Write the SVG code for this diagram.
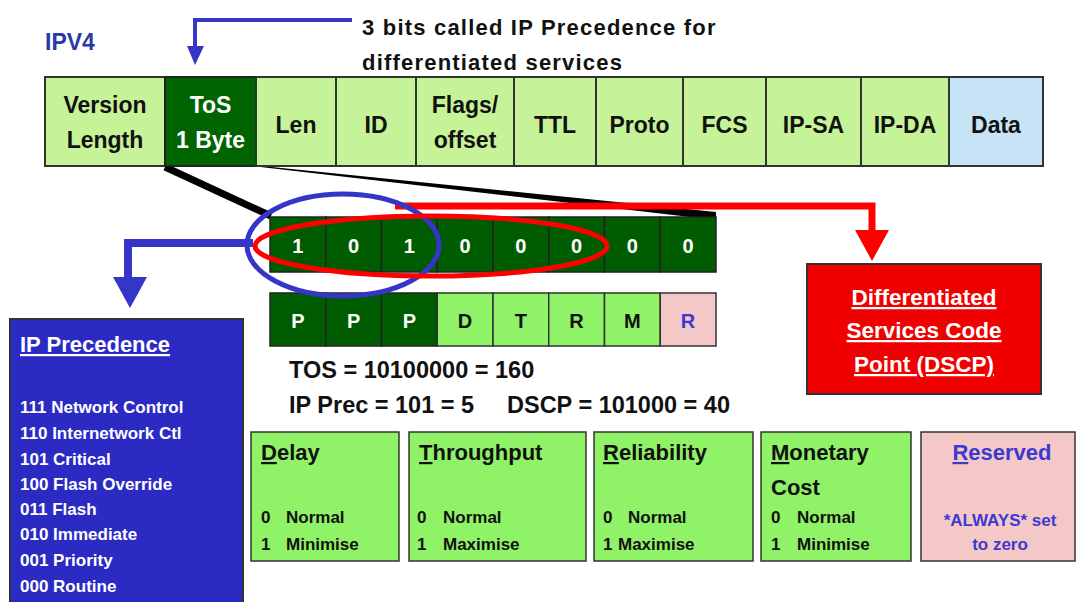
<svg xmlns="http://www.w3.org/2000/svg" width="1077" height="602" viewBox="0 0 1077 602">
<style>
text{font-family:"Liberation Sans",Arial,sans-serif;font-weight:bold}
.lg{fill:#c6f397;stroke:#333;stroke-width:2}
.dg{fill:#006400;stroke:#222;stroke-width:2}
.bg{fill:#005c00;stroke:#222;stroke-width:1.5}
.mg{fill:#90f266;stroke:#333;stroke-width:1.5}
.pk{fill:#f5c8c8;stroke:#333;stroke-width:1.5}
.hd{font-size:23px;fill:#111;text-anchor:middle}
.hw{font-size:23px;fill:#fff;text-anchor:middle}
.bit{font-size:20px;fill:#fff;text-anchor:middle}
.lbl{font-size:20px;text-anchor:middle}
.eq{font-size:23.5px;fill:#111}
.ipp{font-size:17px;fill:#fff}
.bt{font-size:22px;fill:#111}
.bv{font-size:17px;fill:#111}
.rb{fill:#3a3ad0}
.ds{font-size:22.5px;fill:#fff;text-anchor:middle;text-decoration:underline}
</style>
<g id="title">
<text x="45" y="50" font-size="23" fill="#2a3aa8">IPV4</text>
<text x="362" y="35" font-size="22" fill="#111" letter-spacing="1.2">3 bits called IP Precedence for</text>
<text x="362" y="70" font-size="22" fill="#111" letter-spacing="1.2">differentiated services</text>
</g>
<g id="connectors">
<line x1="165" y1="167" x2="271" y2="216" stroke="#000" stroke-width="7"/>
<polygon points="252,166 262,166 716,212 716,220" fill="#000"/>
<polyline points="352,20 195,20 195,48" fill="none" stroke="#3535c8" stroke-width="4"/>
<polygon points="187,46 204,46 195,65" fill="#3535c8"/>
<polyline points="253,243 128,243 128,280" fill="none" stroke="#3535c8" stroke-width="8"/>
<polygon points="113,277 147,277 130,308" fill="#3535c8"/>
<polyline points="395,206 872,206 872,234" fill="none" stroke="#ff0000" stroke-width="7"/>
<polygon points="855,230 889,230 872,261" fill="#ff0000"/>
</g>
<g id="ipv4-header">
<rect class="lg" x="45" y="77" width="120" height="89"/>
<text class="hd" x="105" y="113">Version</text>
<text class="hd" x="105" y="148">Length</text>
<rect class="dg" x="165" y="77" width="91" height="89"/>
<text class="hw" x="210.5" y="113">ToS</text>
<text class="hw" x="210.5" y="148">1 Byte</text>
<rect class="lg" x="256" y="77" width="80" height="89"/>
<text class="hd" x="296" y="133">Len</text>
<rect class="lg" x="336" y="77" width="80" height="89"/>
<text class="hd" x="376" y="133">ID</text>
<rect class="lg" x="416" y="77" width="98" height="89"/>
<text class="hd" x="465" y="113">Flags/</text>
<text class="hd" x="465" y="148">offset</text>
<rect class="lg" x="514" y="77" width="82" height="89"/>
<text class="hd" x="555" y="133">TTL</text>
<rect class="lg" x="596" y="77" width="87" height="89"/>
<text class="hd" x="639.5" y="133">Proto</text>
<rect class="lg" x="683" y="77" width="83" height="89"/>
<text class="hd" x="724.5" y="133">FCS</text>
<rect class="lg" x="766" y="77" width="95" height="89"/>
<text class="hd" x="813.5" y="133">IP-SA</text>
<rect class="lg" x="861" y="77" width="88" height="89"/>
<text class="hd" x="905" y="133">IP-DA</text>
<rect x="949" y="77" width="94" height="89" fill="#c6e4f6" stroke="#333" stroke-width="2"/>
<text class="hd" x="996" y="133">Data</text>
</g>
<g id="tos-bits">
<rect class="bg" x="270" y="217" width="55.75" height="55"/>
<rect class="bg" x="325.75" y="217" width="55.75" height="55"/>
<rect class="bg" x="381.5" y="217" width="55.75" height="55"/>
<rect class="bg" x="437.25" y="217" width="55.75" height="55"/>
<rect class="bg" x="493" y="217" width="55.75" height="55"/>
<rect class="bg" x="548.75" y="217" width="55.75" height="55"/>
<rect class="bg" x="604.5" y="217" width="55.75" height="55"/>
<rect class="bg" x="660.25" y="217" width="55.75" height="55"/>
<text class="bit" x="297.9" y="253">1</text>
<text class="bit" x="353.6" y="253">0</text>
<text class="bit" x="409.4" y="253">1</text>
<text class="bit" x="465.1" y="253">0</text>
<text class="bit" x="520.9" y="253">0</text>
<text class="bit" x="576.6" y="253">0</text>
<text class="bit" x="632.4" y="253">0</text>
<text class="bit" x="688.1" y="253">0</text>
</g>
<g id="tos-labels">
<rect class="bg" x="270" y="293" width="55.75" height="53"/>
<rect class="bg" x="325.75" y="293" width="55.75" height="53"/>
<rect class="bg" x="381.5" y="293" width="55.75" height="53"/>
<rect class="mg" x="437.25" y="293" width="55.75" height="53"/>
<rect class="mg" x="493" y="293" width="55.75" height="53"/>
<rect class="mg" x="548.75" y="293" width="55.75" height="53"/>
<rect class="mg" x="604.5" y="293" width="55.75" height="53"/>
<rect class="pk" x="660.25" y="293" width="55.75" height="53"/>
<text class="lbl" x="297.9" y="328" fill="#fff">P</text>
<text class="lbl" x="353.6" y="328" fill="#fff">P</text>
<text class="lbl" x="409.4" y="328" fill="#fff">P</text>
<text class="lbl" x="465.1" y="328" fill="#111">D</text>
<text class="lbl" x="520.9" y="328" fill="#111">T</text>
<text class="lbl" x="576.6" y="328" fill="#111">R</text>
<text class="lbl" x="632.4" y="328" fill="#111">M</text>
<text class="lbl" x="688.1" y="328" fill="#3a3ad0">R</text>
</g>
<g id="ellipses">
<ellipse cx="343" cy="245" rx="96" ry="51" fill="none" stroke="#3535c8" stroke-width="5"/>
<ellipse cx="431" cy="246" rx="176" ry="30" fill="none" stroke="#ff0000" stroke-width="5"/>
</g>
<g id="values">
<text class="eq" x="289" y="378">TOS = 10100000 = 160</text>
<text class="eq" x="289" y="413">IP Prec = 101 = 5<tspan x="507">DSCP = 101000 = 40</tspan></text>
</g>
<g id="dscp">
<rect x="807" y="264" width="234" height="130" fill="#f00000" stroke="#333" stroke-width="2"/>
<text class="ds" x="924" y="305">Differentiated</text>
<text class="ds" x="924" y="338">Services Code</text>
<text class="ds" x="924" y="372">Point (DSCP)</text>
</g>
<g id="ip-precedence">
<rect x="10" y="319" width="233" height="290" fill="#2b2bc4" stroke="#333" stroke-width="2"/>
<text x="20" y="352" font-size="22" fill="#fff" text-decoration="underline">IP Precedence</text>
<text class="ipp" x="20" y="413">111 Network Control</text>
<text class="ipp" x="20" y="439">110 Internetwork Ctl</text>
<text class="ipp" x="20" y="465">101 Critical</text>
<text class="ipp" x="20" y="490">100 Flash Override</text>
<text class="ipp" x="20" y="515">011 Flash</text>
<text class="ipp" x="20" y="540">010 Immediate</text>
<text class="ipp" x="20" y="566">001 Priority</text>
<text class="ipp" x="20" y="592">000 Routine</text>
</g>
<g id="delay">
<rect class="mg" x="251" y="432" width="148" height="129" stroke-width="2"/>
<text class="bt" x="261" y="460"><tspan text-decoration="underline">D</tspan>elay</text>
<text class="bv" x="261" y="523">0</text><text class="bv" x="286" y="523">Normal</text>
<text class="bv" x="261" y="550">1</text><text class="bv" x="286" y="550">Minimise</text>
</g>
<g id="throughput">
<rect class="mg" x="409" y="432" width="177" height="129" stroke-width="2"/>
<text class="bt" x="419" y="460"><tspan text-decoration="underline">T</tspan>hroughput</text>
<text class="bv" x="417" y="523">0</text><text class="bv" x="443" y="523">Normal</text>
<text class="bv" x="417" y="550">1</text><text class="bv" x="443" y="550">Maximise</text>
</g>
<g id="reliability">
<rect class="mg" x="594" y="432" width="159" height="129" stroke-width="2"/>
<text class="bt" x="603" y="460"><tspan text-decoration="underline">R</tspan>eliability</text>
<text class="bv" x="603" y="523">0</text><text class="bv" x="628" y="523">Normal</text>
<text class="bv" x="603" y="550">1</text><text class="bv" x="618" y="550">Maximise</text>
</g>
<g id="monetary">
<rect class="mg" x="761" y="432" width="150" height="129" stroke-width="2"/>
<text class="bt" x="771" y="460"><tspan text-decoration="underline">M</tspan>onetary</text>
<text class="bt" x="771" y="495">Cost</text>
<text class="bv" x="771" y="523">0</text><text class="bv" x="797" y="523">Normal</text>
<text class="bv" x="771" y="550">1</text><text class="bv" x="797" y="550">Minimise</text>
</g>
<g id="reserved">
<rect class="pk" x="921" y="432" width="154" height="129" stroke-width="2"/>
<text class="bt rb" x="1002" y="460" text-anchor="middle"><tspan text-decoration="underline">R</tspan>eserved</text>
<text class="bv rb" x="1000" y="526" text-anchor="middle">*ALWAYS* set</text>
<text class="bv rb" x="1000" y="550" text-anchor="middle">to zero</text>
</g>
</svg>
